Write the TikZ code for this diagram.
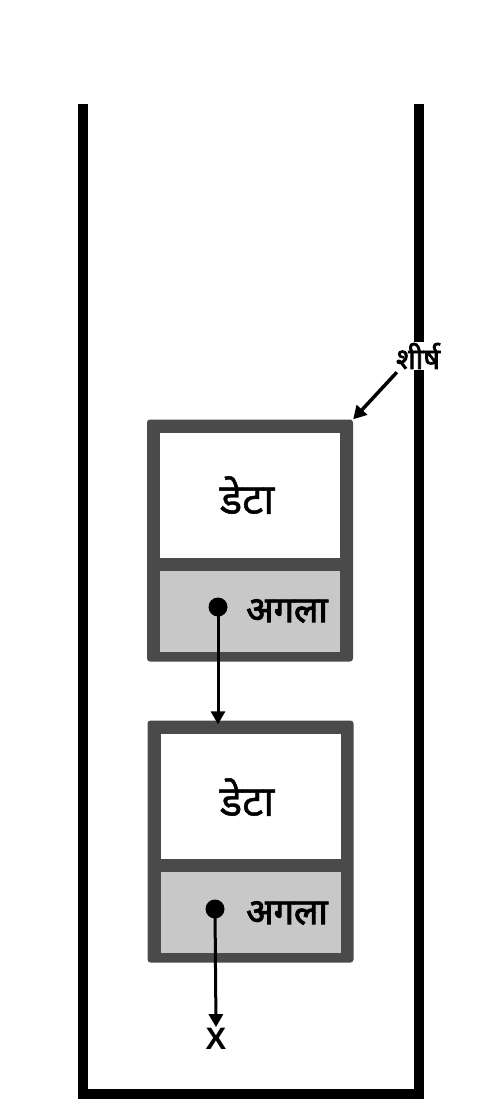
\documentclass[tikz,border=0pt]{standalone}
\usepackage{fontspec}
\newfontfamily\devfont[Script=Devanagari,FakeBold=1]{Noto Sans}
\newfontfamily\devbold[Script=Devanagari,FakeBold=2.5]{Noto Sans}
\newfontfamily\latinfont{Liberation Sans}
\usetikzlibrary{arrows.meta}
\definecolor{cellgray}{HTML}{4A4A4A}
\definecolor{nextgray}{HTML}{C8C8C8}

\begin{document}
\begin{tikzpicture}[x=1pt,y=-1pt]
	\tikzset{cell/.style = {shape=rectangle,fill=cellgray,rounded corners=3pt,
			minimum width=206pt,minimum height=242pt,inner sep=0pt}}
	\tikzset{datafield/.style = {shape=rectangle,fill=white,
			minimum width=180pt,minimum height=125pt,inner sep=0pt}}
	\tikzset{nextfield/.style = {shape=rectangle,fill=nextgray,
			minimum width=180pt,minimum height=81pt,inner sep=0pt}}
	\tikzset{datalabel/.style = {font=\devfont\fontsize{42}{46}\selectfont,inner sep=0pt}}
	\tikzset{nextlabel/.style = {font=\devbold\fontsize{36}{40}\selectfont,inner sep=0pt}}
	\tikzset{dot/.style = {shape=circle,fill=black,minimum size=19pt,inner sep=0pt}}
	\tikzset{ptr/.style = {line width=3pt,-{Triangle[length=13pt,width=14pt]}}}
	\useasboundingbox (0,0) rectangle (503,1105);
    % walls
    \draw[line width=10pt,line join=miter] (83,104) -- (83,1094) -- (418.5,1094) -- (418.5,104);
    % cells
    \node[cell] (c1) at (250,540.5) {};
    \node[datafield] (d1) at (250,495) {};
    \node[nextfield] (n1) at (250,611) {};
    \node[cell] (c2) at (250.5,841.5) {};
    \node[datafield] (d2) at (250.5,796.5) {};
    \node[nextfield] (n2) at (250.5,912.5) {};
    % texts
    \node[datalabel] at (247,495) {डेटा};
    \node[nextlabel] at (287,611) {अगला};
    \node[datalabel] at (247,797) {डेटा};
    \node[nextlabel] at (287,913) {अगला};
    \node[font=\devbold\fontsize{29}{32}\selectfont,fill=white,inner sep=1pt] (head) at (418,356) {शीर्ष};
    \node[font=\latinfont\bfseries\fontsize{31}{34}\selectfont,inner sep=1pt] (x) at (216,1039) {X};
    % pointers
    \node[dot] (p1) at (218,607) {};
    \node[dot] (p2) at (215,909) {};
	\draw[ptr] (p1.center) -- ([yshift=-4pt]p1 |- c2.north);
	\draw[ptr] (p2.center) -- (x.north);
	\draw[ptr,line width=3.5pt] ([xshift=2pt,yshift=-2pt]head.south west) -- (c1.north east);
\end{tikzpicture}
\end{document}
